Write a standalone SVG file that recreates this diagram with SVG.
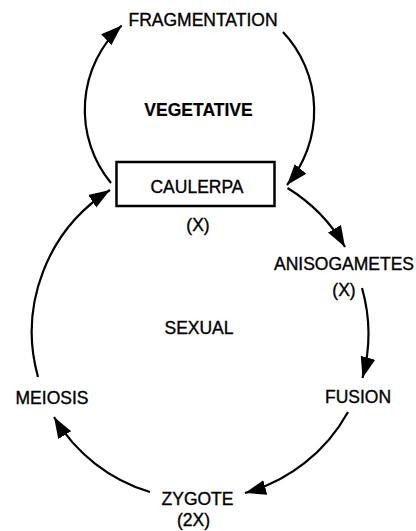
<svg xmlns="http://www.w3.org/2000/svg" width="416" height="531" viewBox="0 0 416 531">
  <style>
    text { font-family: "Liberation Sans", Arial, sans-serif; font-size: 17.5px; fill: #000; stroke: #000; stroke-width: 0.35; text-anchor: middle; }
    .b { font-weight: bold; stroke-width: 0.2; }
    .arc { fill: none; stroke: #000; stroke-width: 2.2; marker-end: url(#ah); }
  </style>
  <defs>
    <marker id="ah" markerUnits="userSpaceOnUse" markerWidth="24" markerHeight="18" viewBox="0 -9 24 18" refX="21" refY="0" orient="auto">
      <path d="M0,-7.5 L21,0 L0,7.5 Z" fill="#000"/>
    </marker>
  </defs>
  <rect width="416" height="531" fill="#fff"/>

  <g id="connectors">
    <path class="arc" d="M111,183 A115,115 0 0 1 121.7,25.5"/>
    <path class="arc" d="M283,32 A115,115 0 0 1 287,185"/>
    <path class="arc" d="M38,377 A168,168 0 0 1 110,190"/>
    <path class="arc" d="M287.5,188 A168,168 0 0 1 345,247"/>
    <path class="arc" d="M362,288 A168,168 0 0 1 362.5,378"/>
    <path class="arc" d="M348,412 A168,168 0 0 1 245,493"/>
    <path class="arc" d="M150,492 A168,168 0 0 1 54,417"/>
  </g>

  <g id="fragmentation"><text x="203" y="25.5">FRAGMENTATION</text></g>
  <g id="vegetative"><text class="b" x="198.5" y="115.5">VEGETATIVE</text></g>
  <g id="caulerpa">
    <rect x="116.5" y="162" width="158" height="44" fill="none" stroke="#000" stroke-width="2.5"/>
    <text x="197" y="193">CAULERPA</text>
    <text x="198" y="231">(X)</text>
  </g>
  <g id="anisogametes">
    <text x="344" y="270">ANISOGAMETES</text>
    <text x="344" y="296">(X)</text>
  </g>
  <g id="sexual"><text x="199" y="334">SEXUAL</text></g>
  <g id="meiosis"><text x="52" y="404">MEIOSIS</text></g>
  <g id="fusion"><text x="358" y="403">FUSION</text></g>
  <g id="zygote">
    <text x="197.5" y="505">ZYGOTE</text>
    <text x="193.5" y="526">(2X)</text>
  </g>
</svg>
